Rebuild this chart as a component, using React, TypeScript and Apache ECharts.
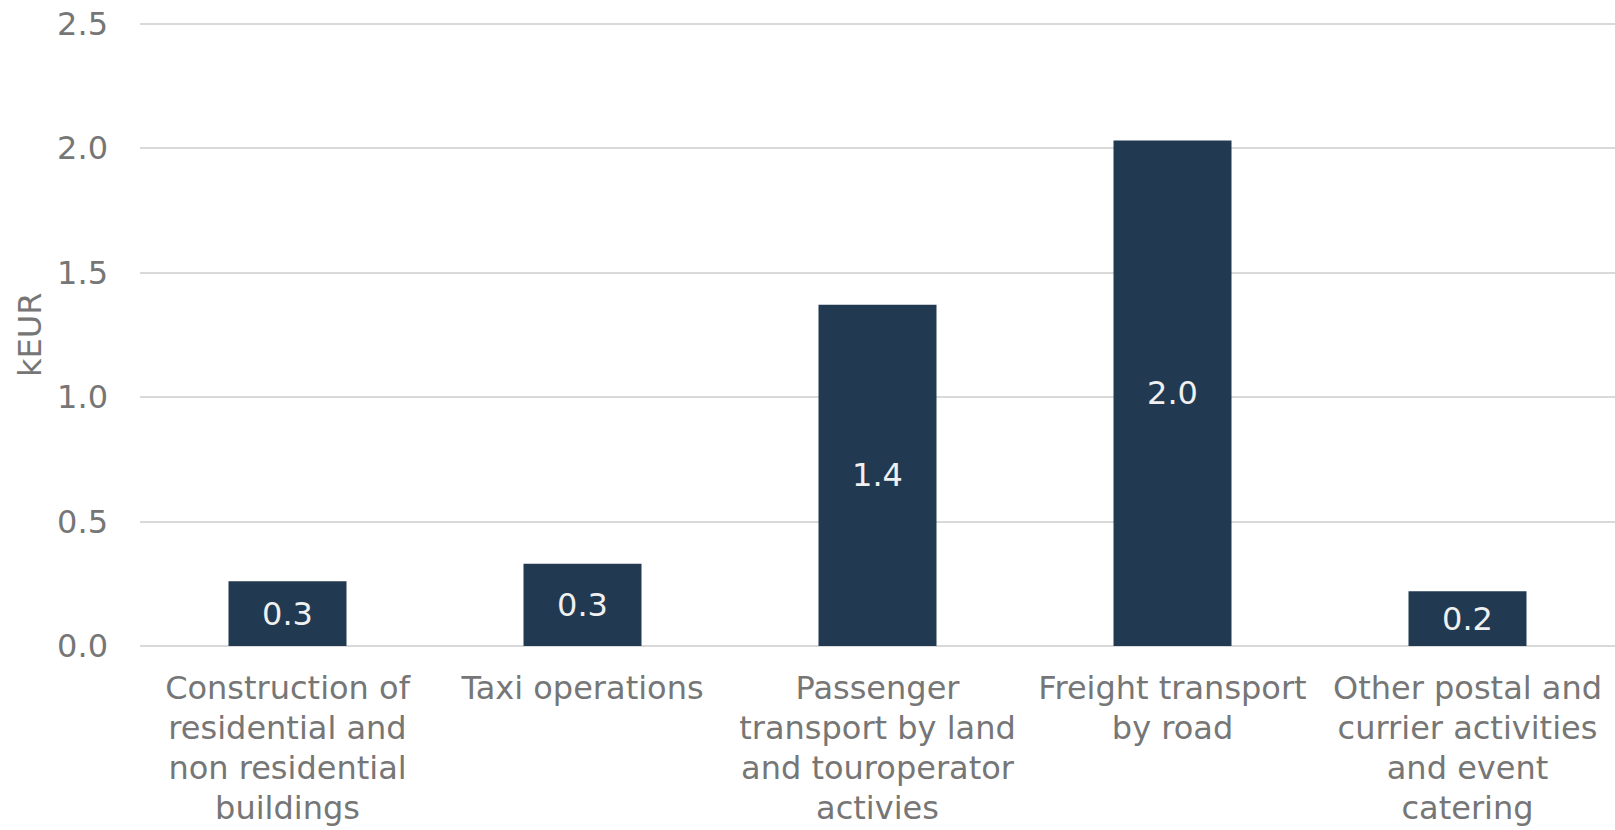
import React, { useEffect, useRef } from "react";
import * as echarts from "echarts";

const categories = [
  "Construction of\nresidential and\nnon residential\nbuildings",
  "Taxi operations",
  "Passenger\ntransport by land\nand touroperator\nactivies",
  "Freight transport\nby road",
  "Other postal and\ncurrier activities\nand event\ncatering",
];
const values = [0.26, 0.33, 1.37, 2.03, 0.22];
const yTicks = { min: 0, max: 2.5, interval: 0.5 };
const yName = "kEUR";

const FONT = "'DejaVu Sans', sans-serif";
const TEXT = "#767676";

export default function App() {
  const ref = useRef<HTMLDivElement>(null);
  useEffect(() => {
    document.body.style.margin = "0";
    const chart = echarts.init(ref.current!, undefined, { renderer: "svg" });
    chart.setOption({
      animation: false,
      backgroundColor: "#ffffff",
      grid: { left: 140, width: 1482, top: 23.5, bottom: 184, containLabel: false },
      xAxis: {
        type: "category",
        data: categories,
        axisLine: { show: false },
        axisTick: { show: false },
        axisLabel: {
          interval: 0,
          color: TEXT,
          fontFamily: FONT,
          fontSize: 32,
          lineHeight: 40,
          margin: 22,
          align: "center",
        },
      },
      yAxis: {
        type: "value",
        min: yTicks.min,
        max: yTicks.max,
        interval: yTicks.interval,
        name: yName,
        nameLocation: "middle",
        nameGap: 86,
        nameTextStyle: { color: TEXT, fontFamily: FONT, fontSize: 32 },
        axisLine: { show: false },
        axisTick: { show: false },
        splitLine: { lineStyle: { color: "#d9d9d9", width: 2 } },
        axisLabel: {
          color: TEXT,
          fontFamily: FONT,
          fontSize: 32,
          margin: 32,
          formatter: (v: number) => v.toFixed(1),
        },
      },
      series: [
        {
          type: "bar",
          data: values,
          barWidth: "40%",
          itemStyle: { color: "#213a52" },
          label: {
            show: true,
            position: "inside",
            color: "#f0f0f0",
            fontFamily: FONT,
            fontSize: 32,
            formatter: (p: any) => Number(p.value).toFixed(1),
          },
        },
      ],
    });
    return () => chart.dispose();
  }, []);
  return (
    <div
      ref={ref}
      style={{ position: "absolute", left: 0, top: 0, width: 1615, height: 830 }}
    />
  );
}
